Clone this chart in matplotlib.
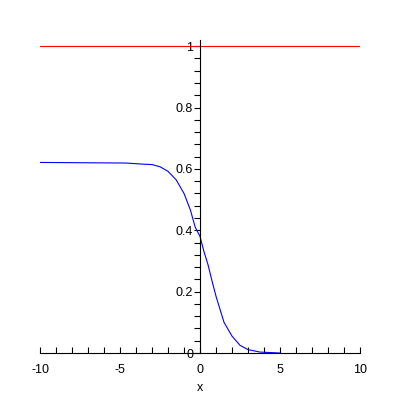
import matplotlib
matplotlib.use('Agg')
import matplotlib.pyplot as plt
from matplotlib.ticker import MultipleLocator, FixedLocator

# curve
x_vals = [-10, -4.6, -3.75, -3.0, -2.5, -2.0, -1.5, -1.0, -0.6, -0.3, 0.0,
          0.25, 0.5, 0.75, 1.0, 1.5, 2.0, 2.5, 3.0, 3.75, 5.0]
y_vals = [0.621, 0.619, 0.616, 0.614, 0.607, 0.592, 0.565, 0.52, 0.466, 0.41, 0.38,
          0.33, 0.288, 0.235, 0.185, 0.10, 0.055, 0.025, 0.011, 0.003, 0.0]

# horizontal line at 1
line_x = [-10, 10]
line_y = [1, 1]

plt.rcParams['font.family'] = ['Liberation Sans', 'DejaVu Sans']

fig = plt.figure(figsize=(4, 4), dpi=100)
ax = fig.add_axes([0.1, 0.1175, 0.8, 0.7825])

ax.plot(line_x, line_y, color='#ff0000', linewidth=0.8)
ax.plot(x_vals, y_vals, color='#0000ff', linewidth=0.8)

ax.set_xlim(-10, 10)
ax.set_ylim(0, 1.02)

ax.spines['top'].set_visible(False)
ax.spines['right'].set_visible(False)
ax.spines['left'].set_position(('data', 0))
ax.spines['left'].set_linewidth(0.8)
ax.spines['bottom'].set_linewidth(0.8)

ax.xaxis.set_major_locator(FixedLocator([-10, -5, 0, 5, 10]))
ax.xaxis.set_minor_locator(MultipleLocator(1))
ax.set_xticklabels(['-10', '-5', '0', '5', '10'])
ax.yaxis.set_major_locator(FixedLocator([0, 0.2, 0.4, 0.6, 0.8, 1]))
ax.yaxis.set_minor_locator(MultipleLocator(0.04))
ax.set_yticklabels(['0', '0.2', '0.4', '0.6', '0.8', '1'])

ax.tick_params(axis='x', which='both', direction='in', length=4, width=0.8, labelsize=9, pad=8)
ax.tick_params(axis='y', which='both', direction='out', length=4, width=0.8, labelsize=9, pad=1)

ax.set_xlabel('x', fontsize=9, labelpad=4)

fig.savefig('out.png', dpi=100)
